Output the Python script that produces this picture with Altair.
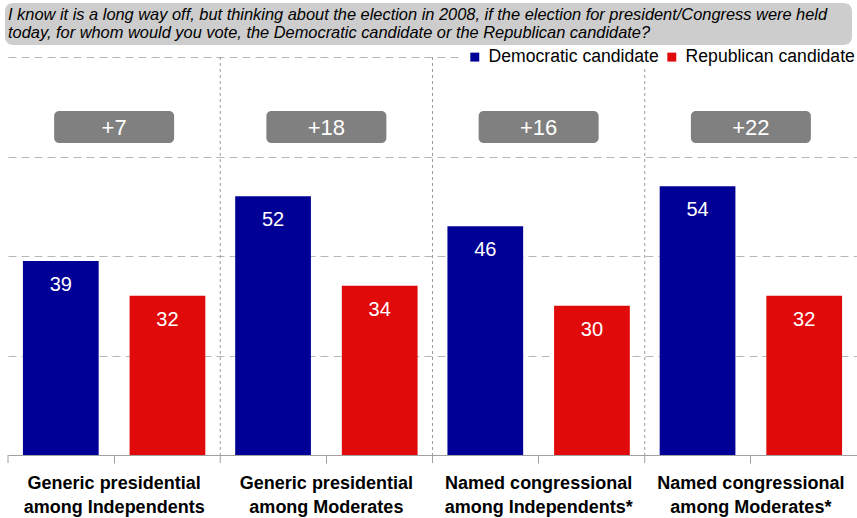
import altair as alt
import pandas as pd

groups = [
    "Generic presidential|among Independents",
    "Generic presidential|among Moderates",
    "Named congressional|among Independents*",
    "Named congressional|among Moderates*",
]
series = ["Democratic candidate", "Republican candidate"]
dem = [39, 52, 46, 54]
rep = [32, 34, 30, 32]
colors = ["#000096", "#e00a0a"]
question = [
    "I know it is a long way off, but thinking about the election in 2008, if the election for president/Congress were held",
    "today, for whom would you vote, the Democratic candidate or the Republican candidate?",
]

rows = []
for g, d, r in zip(groups, dem, rep):
    rows.append({"group": g, "series": series[0], "value": d})
    rows.append({"group": g, "series": series[1], "value": r})
df = pd.DataFrame(rows)
diff = pd.DataFrame({"group": groups, "label": [f"+{d - r}" for d, r in zip(dem, rep)]})
seps = pd.DataFrame({"group": groups[1:]})
bounds = pd.DataFrame({"group": groups})
qdf = pd.DataFrame({"q": ["\n".join(question)]})

FONT = "Liberation Sans"
W, H = 849, 398


def xenc(**kw):
    return alt.X(
        "group:N",
        sort=groups,
        scale=alt.Scale(domain=groups, paddingInner=0, paddingOuter=0),
        axis=alt.Axis(
            title=None,
            labelAngle=0,
            labelExpr="split(datum.label, '|')",
            labelFont=FONT,
            labelFontSize=18,
            labelFontWeight="bold",
            labelColor="black",
            labelLineHeight=24,
            labelPadding=11,
            labelLimit=0,
            tickSize=8,
            tickColor="#a0a0a0",
            domainColor="#a0a0a0",
            grid=False,
        ),
        **kw,
    )


xoff = alt.XOffset("series:N", sort=series,
                   scale=alt.Scale(domain=series, paddingInner=0.29, paddingOuter=0.14))
yenc = alt.Y(
    "value:Q",
    scale=alt.Scale(domain=[0, 80]),
    axis=alt.Axis(values=[20, 40, 60, 80], grid=True, gridDash=[8, 5], gridColor="#b8b8b8",
                  labels=False, ticks=False, domain=False, title=None),
)

bars = alt.Chart(df).mark_bar().encode(
    x=xenc(),
    xOffset=xoff,
    y=yenc,
    color=alt.Color(
        "series:N",
        scale=alt.Scale(domain=series, range=colors),
        legend=alt.Legend(
            title=None, orient="none", legendX=455, legendY=-12, direction="horizontal",
            fillColor="white", padding=3, symbolType="square", symbolSize=80,
            symbolStrokeWidth=0, labelFont=FONT, labelFontSize=17.6, labelColor="black",
            columnPadding=4, labelOffset=5, labelLimit=0,
        ),
    ),
)

values = alt.Chart(df).mark_text(dy=24, color="white", fontSize=20, font=FONT, baseline="middle").encode(
    x=xenc(), xOffset=xoff, y=yenc, text="value:Q"
)

sep_rules = alt.Chart(seps).mark_rule(color="#9a9a9a", strokeDash=[3, 3], strokeWidth=1).encode(
    x=xenc(bandPosition=0), y=alt.value(0), y2=alt.value(H)
)
bound_ticks = alt.Chart(bounds).mark_rule(color="#a0a0a0").encode(
    x=xenc(bandPosition=0), y=alt.value(H), y2=alt.value(H + 8)
)

boxes = alt.Chart(diff).mark_bar(width=120, cornerRadius=5, color="#808080").encode(
    x=xenc(), y=alt.value(54), y2=alt.value(86)
)
box_text = alt.Chart(diff).mark_text(color="white", fontSize=22, font=FONT, baseline="middle").encode(
    x=xenc(), y=alt.value(71), text="label:N"
)

qbox = alt.Chart(qdf).mark_rect(cornerRadius=8, color="#cdcdcd").encode(
    x=alt.value(-3), x2=alt.value(844), y=alt.value(-54), y2=alt.value(-12)
)
qtext = alt.Chart(qdf).mark_text(
    align="left", baseline="middle", fontStyle="italic", fontSize=16.4, font=FONT,
    lineHeight=18, lineBreak="\n", color="black"
).encode(x=alt.value(0), y=alt.value(-42), text="q:N")

chart = alt.layer(
    sep_rules, bars, values, bound_ticks, boxes, box_text, qbox, qtext
).properties(
    width=W, height=H,
    autosize=alt.AutoSizeParams(type="none"),
    padding={"left": 8, "top": 57, "right": 0, "bottom": 62},
).configure_view(stroke=None)

chart.save("out.html", embed_options={"renderer": "svg", "actions": False})
